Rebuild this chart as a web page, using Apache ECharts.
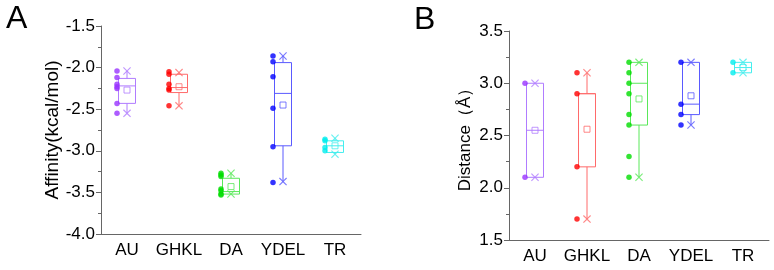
<!DOCTYPE html>
<html>
<head>
<meta charset="utf-8">
<script src="https://cdn.jsdelivr.net/npm/echarts@6/dist/echarts.min.js"></script>
<style>
  html, body { margin: 0; padding: 0; background: #fff; }
  #chart { width: 774px; height: 270px; }
</style>
</head>
<body>
<div id="chart"></div>
<script>
// 类别
const categories = ['AU', 'GHKL', 'DA', 'YDEL', 'TR'];
const dotColors = ['#9933ff', '#ff0000', '#00dd00', '#0000ff', '#00eeee'];
const boxColors = ['#b07cff', '#ff6a6a', '#5ae85a', '#5a5aff', '#44eeee'];

// A: Affinity  [min, Q1, median, Q3, max]
const affinityBox = [
  [-2.55, -2.43, -2.22, -2.13, -2.04],
  [-2.46, -2.30, -2.24, -2.08, -2.06],
  [-3.52, -3.52, -3.49, -3.33, -3.27],
  [-3.37, -2.94, -2.31, -1.94, -1.86],
  [-3.04, -3.02, -2.94, -2.88, -2.85]
];
const affinityMean = [-2.27, -2.23, -3.43, -2.45, -2.94];
const affinityPoints = [
  [-2.04, -2.12, -2.20, -2.23, -2.25, -2.43, -2.55],
  [-2.05, -2.08, -2.20, -2.25, -2.27, -2.46],
  [-3.27, -3.29, -3.31, -3.46, -3.48, -3.52, -3.53],
  [-1.86, -1.93, -2.11, -2.49, -2.95, -3.38],
  [-2.86, -2.88, -2.96, -3.00]
];

// B: Distance  [min, Q1, median, Q3, max]
const distanceBox = [
  [2.1, 2.1, 2.55, 3.0, 3.0],
  [1.7, 2.2, 2.9, 2.9, 3.1],
  [2.1, 2.6, 3.0, 3.2, 3.2],
  [2.6, 2.7, 2.8, 3.2, 3.2],
  [3.1, 3.1, 3.15, 3.2, 3.2]
];
const distanceMean = [2.55, 2.56, 2.85, 2.88, 3.15];
const distancePoints = [
  [3.0, 2.1],
  [3.1, 2.9, 2.2, 1.7],
  [3.2, 3.1, 3.0, 2.9, 2.7, 2.6, 2.3, 2.1],
  [3.2, 2.8, 2.7, 2.6],
  [3.2, 3.1]
];

const fontFamily = '"Liberation Sans", Arial, sans-serif';
const crossPath = 'path://M0,1L1,0L5,4L9,0L10,1L6,5L10,9L9,10L5,6L1,10L0,9L4,5Z';

function xAxisOf(gridIndex) {
  return {
    type: 'category',
    gridIndex: gridIndex,
    data: categories,
    axisLine: { lineStyle: { color: '#666', width: 1 } },
    axisTick: { alignWithLabel: true, length: 5, lineStyle: { color: '#666' } },
    axisLabel: { interval: 0, color: '#000', fontSize: 17, fontFamily: fontFamily, margin: 8 }
  };
}

function yAxisOf(gridIndex, min, max, name, nameSize, nameGap) {
  return {
    type: 'value',
    gridIndex: gridIndex,
    min: min,
    max: max,
    interval: 0.5,
    name: name,
    nameLocation: 'middle',
    nameGap: nameGap,
    nameTextStyle: { color: '#000', fontSize: nameSize, fontFamily: fontFamily },
    axisLine: { show: true, lineStyle: { color: '#666', width: 1 } },
    axisTick: { show: true, length: 5, lineStyle: { color: '#666' } },
    minorTick: { show: true, splitNumber: 2, length: 3, lineStyle: { color: '#666' } },
    splitLine: { show: false },
    axisLabel: {
      color: '#000', fontSize: 17, fontFamily: fontFamily, margin: 6,
      formatter: function (v) { return v.toFixed(1); }
    }
  };
}

// 箱体：用 custom 画，须无须帽
function boxSeries(idx, boxes) {
  return {
    type: 'custom',
    xAxisIndex: idx, yAxisIndex: idx,
    data: boxes.map(function (b, i) { return [i].concat(b); }),
    encode: { x: 0, y: [1, 2, 3, 4, 5] },
    renderItem: function (params, api) {
      const i = api.value(0);
      const pMin = api.coord([i, api.value(1)]);
      const pQ1 = api.coord([i, api.value(2)]);
      const pMed = api.coord([i, api.value(3)]);
      const pQ3 = api.coord([i, api.value(4)]);
      const pMax = api.coord([i, api.value(5)]);
      const hw = 8.5;
      const x = pQ1[0];
      const st = { stroke: boxColors[i], lineWidth: 1, fill: null };
      return {
        type: 'group',
        children: [
          { type: 'line', shape: { x1: x, y1: pQ3[1], x2: x, y2: pMax[1] }, style: st },
          { type: 'line', shape: { x1: x, y1: pQ1[1], x2: x, y2: pMin[1] }, style: st },
          { type: 'rect', shape: { x: x - hw, y: pQ3[1], width: hw * 2, height: pQ1[1] - pQ3[1] }, style: st },
          { type: 'line', shape: { x1: x - hw, y1: pMed[1], x2: x + hw, y2: pMed[1] }, style: st }
        ]
      };
    },
    z: 2
  };
}

function pointSeries(idx, points) {
  const data = [];
  points.forEach(function (arr, i) {
    arr.forEach(function (v) {
      data.push({ value: [i, v], itemStyle: { color: dotColors[i] } });
    });
  });
  return {
    type: 'scatter',
    xAxisIndex: idx, yAxisIndex: idx,
    symbol: 'circle', symbolSize: 5.5, symbolOffset: [-10, 0],
    data: data, z: 3
  };
}

function extremeSeries(idx, boxes) {
  const data = [];
  boxes.forEach(function (b, i) {
    data.push({ value: [i, b[0]], itemStyle: { color: boxColors[i] } });
    data.push({ value: [i, b[4]], itemStyle: { color: boxColors[i] } });
  });
  return {
    type: 'scatter',
    xAxisIndex: idx, yAxisIndex: idx,
    symbol: crossPath, symbolSize: 8,
    data: data, z: 4
  };
}

function meanSeries(idx, means) {
  return {
    type: 'scatter',
    xAxisIndex: idx, yAxisIndex: idx,
    symbol: 'rect', symbolSize: 6,
    data: means.map(function (m, i) {
      return { value: [i, m], itemStyle: { color: 'rgba(0,0,0,0)', borderColor: boxColors[i], borderWidth: 1 } };
    }),
    z: 4
  };
}

const chart = echarts.init(document.getElementById('chart'));
chart.setOption({
  animation: false,
  backgroundColor: '#fff',
  grid: [
    { left: 101, top: 26, width: 260, height: 208 },
    { left: 509, top: 31, width: 260, height: 209 }
  ],
  xAxis: [xAxisOf(0), xAxisOf(1)],
  yAxis: [
    yAxisOf(0, -4, -1.5, 'Affinity(kcal/mol)', 19, 37),
    yAxisOf(1, 1.5, 3.5, 'Distance（Å）', 17, 35)
  ],
  graphic: [
    { type: 'text', left: 6, top: 3, style: { text: 'A', fontSize: 32, fontFamily: fontFamily, fill: '#000' } },
    { type: 'text', left: 414, top: 4, style: { text: 'B', fontSize: 32, fontFamily: fontFamily, fill: '#000' } }
  ],
  series: [
    boxSeries(0, affinityBox),
    pointSeries(0, affinityPoints),
    extremeSeries(0, affinityBox),
    meanSeries(0, affinityMean),
    boxSeries(1, distanceBox),
    pointSeries(1, distancePoints),
    extremeSeries(1, distanceBox),
    meanSeries(1, distanceMean)
  ]
});
</script>
</body>
</html>
